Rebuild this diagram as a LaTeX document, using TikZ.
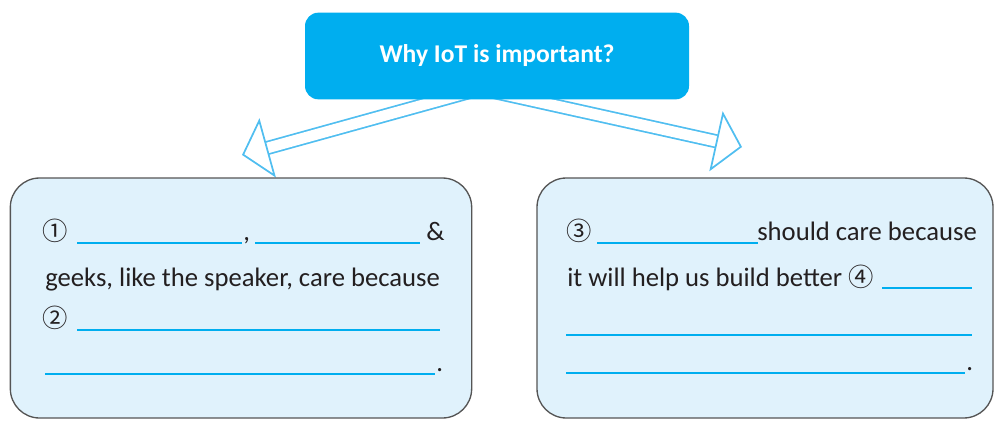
\documentclass[tikz,border=0pt]{standalone}
\usepackage{fontspec}
\setmainfont{Carlito}
\newfontfamily\cjk{Noto Sans CJK SC}
\usetikzlibrary{arrows.meta,positioning,backgrounds}

\definecolor{iotblue}{RGB}{0,174,239}
\definecolor{arrowblue}{RGB}{80,190,240}
\definecolor{panelfill}{RGB}{224,242,252}
\definecolor{panelline}{RGB}{85,85,85}
\definecolor{inkgray}{RGB}{35,31,32}

\tikzset{
  question/.style={fill=iotblue, rounded corners=10pt, minimum width=288pt,
    minimum height=65pt, text=white, font=\bfseries\fontsize{19.2}{23}\selectfont},
  panel/.style={draw=panelline, line width=1pt, fill=panelfill,
    rounded corners=22pt, minimum height=180pt},
  hollow/.style={draw=arrowblue, line width=1.3pt, double=white,
    double distance=8pt, -{Triangle[open,length=20pt,width=46pt]}},
  blank/.style={draw=iotblue, line width=1pt},
  words/.style={anchor=base west, inner sep=0pt, text=inkgray,
    font=\fontsize{20}{24}\selectfont},
  circnum/.style={words, font=\cjk\fontsize{19}{22}\selectfont},
}

\begin{document}
\begin{tikzpicture}[x=0.75pt,y=-0.75pt]
  \useasboundingbox (0,0) rectangle (994,428);
  % question box and arrows
  \node[question] (why) at (497,56) {Why IoT is important?};
  \coordinate (lstart) at (484,88);
  \coordinate (rstart) at (476,88);
  \coordinate (ltip) at (242,155);
  \coordinate (rtip) at (742,147);
  \begin{scope}[on background layer]
    \draw[hollow] (lstart) -- (ltip);
    \draw[hollow] (rstart) -- (rtip);
  \end{scope}
  % answer panels
  \node[panel, minimum width=346pt] (left) at (241,298) {};
  \node[panel, minimum width=342pt] (right) at (765,298) {};
  % left panel text
  \node[circnum] (n1) at (42,240) {①};
  \draw[blank] (77,243) -- (242,243);
  \node[words] (comma) at (243,240) {,};
  \draw[blank] (255,243) -- (420,243);
  \node[words] (amp) at (426,240) {\&};
  \node[words] (geeks) at (45,286) {geeks, like the speaker, care because};
  \node[circnum] (n2) at (42,327) {②};
  \draw[blank] (77,330) -- (440,330);
  \draw[blank] (45,374) -- (435,374);
  \node[words] (ldot) at (436,371) {.};
  % right panel text
  \node[circnum] (n3) at (566,240) {③};
  \draw[blank] (597,243) -- (758,243);
  \node[words] (care) at (757,240) {should care because};
  \node[words] (help) at (567,286) {it will help us build better};
  \node[circnum] (n4) at (848,286) {④};
  \draw[blank] (882,288) -- (972,288);
  \draw[blank] (566,335) -- (972,335);
  \draw[blank] (566,373) -- (965,373);
  \node[words] (rdot) at (966,370) {.};
\end{tikzpicture}
\end{document}
